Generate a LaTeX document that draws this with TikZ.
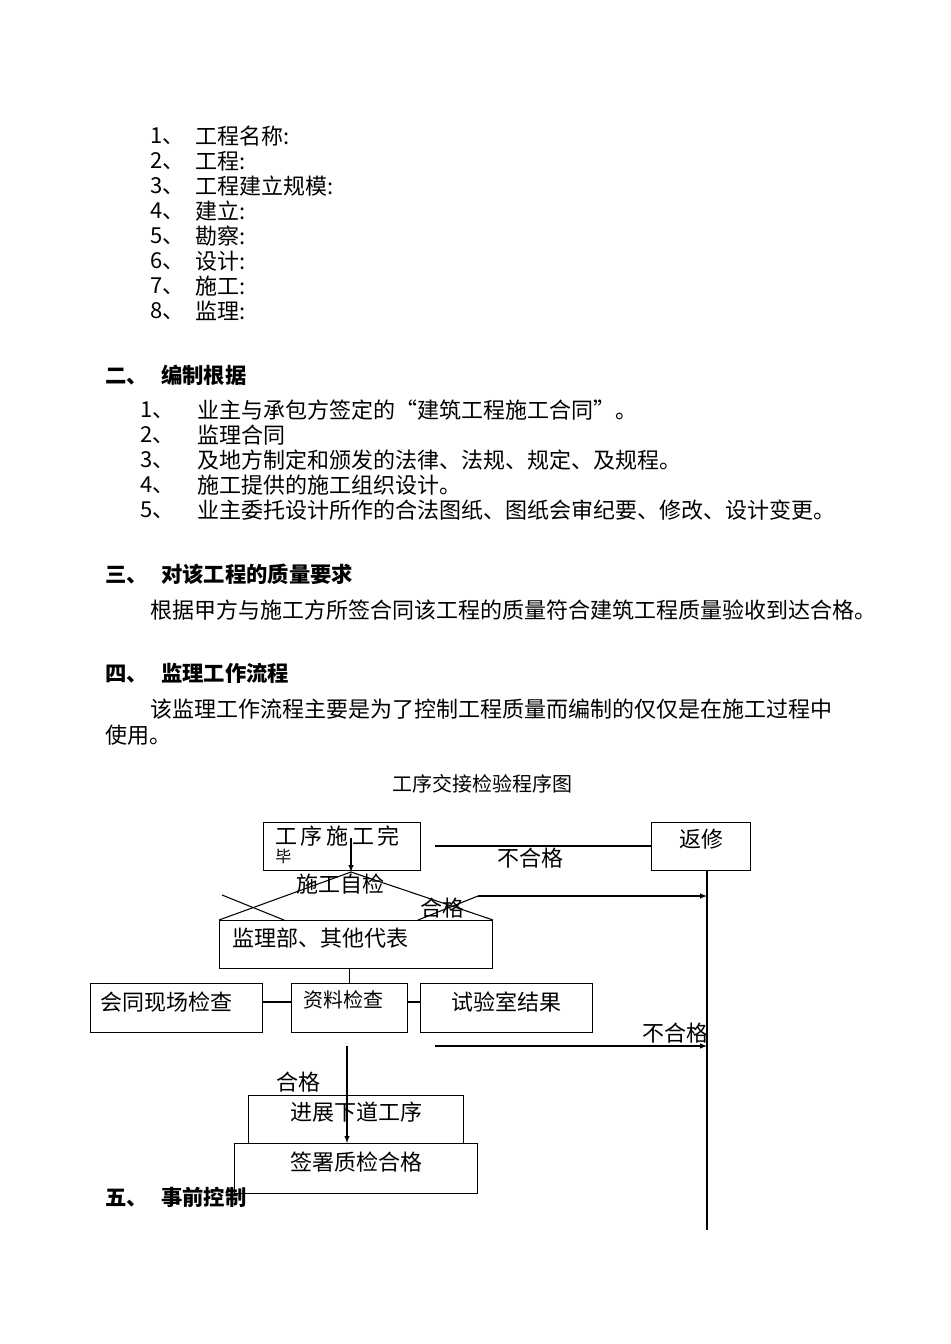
\documentclass[tikz,border=0pt]{standalone}
\usepackage{fontspec}
\setmainfont{Noto Sans CJK SC}
\begin{document}
\begin{tikzpicture}[x=0.75pt,y=-0.75pt,
  t/.style={anchor=west,inner sep=0pt,font=\fontsize{16.5pt}{18pt}\selectfont},
  hd/.style={anchor=west,inner sep=0pt,font=\fontsize{16pt}{18pt}\selectfont\bfseries},
  bx/.style={draw,thick,inner sep=0pt,anchor=north west},
  lb/.style={inner sep=0pt,font=\fontsize{16.5pt}{18pt}\selectfont},
  ln/.style={thick},
  ar/.style={thick,-latex}]
\useasboundingbox[fill=white] (0,0) rectangle (950,1344);
\foreach \n/\s [count=\i] in {1/工程名称:,2/工程:,3/工程建立规模:,4/建立:,5/勘察:,6/设计:,7/施工:,8/监理:}{
  \node[t] (na\i) at (150,{136+25*(\i-1)}) {\n、};
  \node[t] (ta\i) at (195,{136+25*(\i-1)}) {\s};
}
\node[hd] (h2) at (105,375) {二、\hspace{10pt}编制根据};
\foreach \n/\s [count=\i] in {1/业主与承包方签定的“建筑工程施工合同”。,2/监理合同,3/及地方制定和颁发的法律、法规、规定、及规程。,4/施工提供的施工组织设计。,5/业主委托设计所作的合法图纸、图纸会审纪要、修改、设计变更。}{
  \node[t] (nb\i) at (140,{410+25*(\i-1)}) {\n、};
  \node[t] (tb\i) at (197,{410+25*(\i-1)}) {\s};
}
\node[hd] (h3) at (105,574) {三、\hspace{10pt}对该工程的质量要求};
\node[t] (p3) at (150,610) {根据甲方与施工方所签合同该工程的质量符合建筑工程质量验收到达合格。};
\node[hd] (h4) at (105,673) {四、\hspace{10pt}监理工作流程};
\node[t] (p4) at (150,709) {该监理工作流程主要是为了控制工程质量而编制的仅仅是在施工过程中};
\node[t] (p4b) at (105,735) {使用。};
\node[lb,font=\fontsize{15pt}{16pt}\selectfont] (title) at (482,784) {工序交接检验程序图};
% diagram
\node[bx,minimum width={0.75pt*157},minimum height={0.75pt*48}] (gx) at (263,822) {};
\node[lb,anchor=north west,align=left] (gxt) at (275,826) {工\,序\,施\,工\,完\\[-5pt]{\fontsize{12pt}{12pt}\selectfont 毕}};
\node[bx,minimum width={0.75pt*99},minimum height={0.75pt*48}] (fx) at (651,822) {};
\node[lb] (fxt) at (701,839) {返修};
\coordinate (l1) at (435,846);
\draw[ln] (l1) -- (fx.west|-l1);
\node[lb] (bh1) at (530,858) {不合格};
\coordinate (apex) at (351,872);
\coordinate (a0) at (351,838);
\draw[ar] (a0) -- (apex);
\node[bx,minimum width={0.75pt*273},minimum height={0.75pt*48}] (jl) at (219,920) {};
\node[lb,anchor=west] (jlt) at (232,938) {监理部、其他代表};
\draw[ln] (apex) -- (jl.north west);
\draw[ln] (apex) -- (jl.north east);
\coordinate (c1) at (222,895);
\coordinate (c2) at (284,920);
\draw[ln] (c1) -- (c2);
\node[lb] (zj) at (340,884) {施工自检};
\node[lb] (hg1) at (442,908) {合格};
\coordinate (v) at (707,870);
\coordinate (vend) at (707,1230);
\draw[ln] (v) -- (vend);
\coordinate (d1) at (418,920);
\coordinate (d2) at (478,896);
\draw[ln] (d1) -- (d2);
\draw[ar] (d2) -- (v|-d2);
\node[bx,minimum width={0.75pt*172},minimum height={0.75pt*49}] (hc) at (90,983) {};
\node[lb] (hct) at (166,1002) {会同现场检查};
\node[bx,minimum width={0.75pt*116},minimum height={0.75pt*49}] (zl) at (291,983) {};
\node[lb,font=\fontsize{15pt}{16pt}\selectfont] (zlt) at (343,1000) {资料检查};
\node[bx,minimum width={0.75pt*172},minimum height={0.75pt*49}] (sy) at (420,983) {};
\node[lb] (syt) at (506,1002) {试验室结果};
\draw[ln] (jl.south-|zl.north) -- (zl.north);
\draw[ln] (hc.east|-hct) -- (zl.west|-hct);
\draw[ln] (zl.east|-hct) -- (sy.west|-hct);
\coordinate (e1) at (435,1046);
\draw[ar] (e1) -- (v|-e1);
\node[lb] (bh2) at (675,1033) {不合格};
\node[bx,minimum width={0.75pt*215},minimum height={0.75pt*48}] (jz) at (248,1095) {};
\node[lb] (jzt) at (356,1112) {进展下道工序};
\node[bx,minimum width={0.75pt*243},minimum height={0.75pt*50}] (qs) at (234,1143) {};
\node[lb] (qst) at (356,1162) {签署质检合格};
\coordinate (f1) at (347,1046);
\draw[ar] (f1) -- (qs.north-|f1);
\node[lb] (hg2) at (298,1082) {合格};
\node[hd] (h5) at (105,1197) {五、\hspace{10pt}事前控制};
\end{tikzpicture}
\end{document}
